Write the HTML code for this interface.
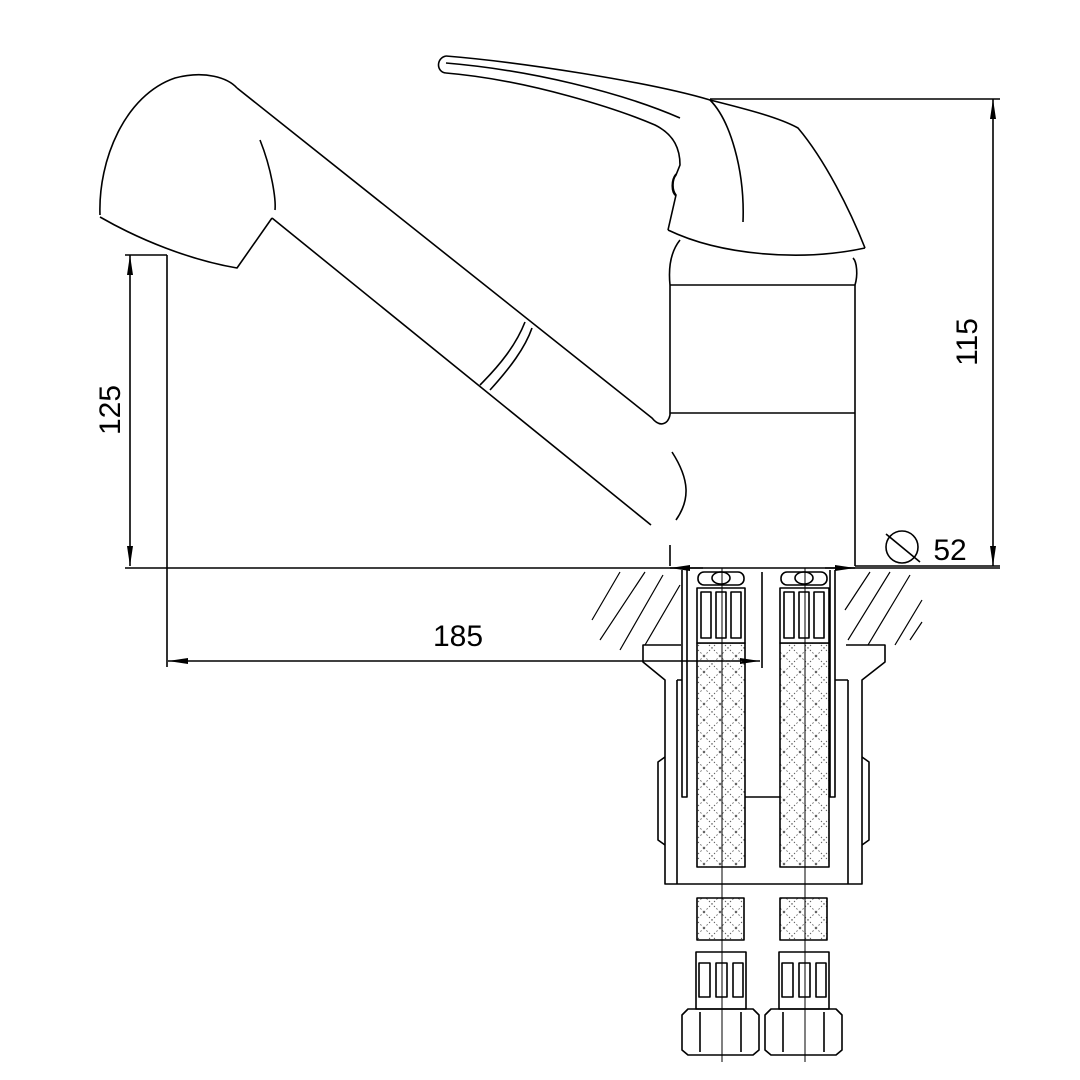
<!DOCTYPE html>
<html><head><meta charset="utf-8"><style>html,body{margin:0;padding:0;background:#fff}svg{display:block}</style></head>
<body>
<svg width="1080" height="1080" viewBox="0 0 1080 1080" xmlns="http://www.w3.org/2000/svg">
<defs>
<pattern id="x" width="16" height="16" patternUnits="userSpaceOnUse">
<path d="M0 0L16 16M16 0L0 16" stroke="#444" stroke-width="0.8" stroke-dasharray="1.5 2"/>
</pattern>
<marker id="a" viewBox="0 0 20 8" refX="20" refY="4" markerWidth="20" markerHeight="8" orient="auto-start-reverse" markerUnits="userSpaceOnUse"><path d="M0 1L20 4L0 7z" fill="#000"/></marker>
</defs>
<g fill="none" stroke="#000" stroke-width="1.6" stroke-linejoin="round">
<!-- spray head -->
<path d="M100 215 C98 160 125 95 175 78 C205 70 228 78 237 88"/>
<path d="M100 217 C140 240 190 260 237 268 L272 218"/>
<path d="M260 140 C272 170 276 200 275 210"/>
<path d="M237 88 L652 418 C660 428 668 424 670 415"/>
<path d="M272 218 L651 525"/>
<path d="M480 385 C500 365 516 345 525 322"/>
<path d="M490 390 C510 368 525 348 532 328"/>
<path d="M672 452 C690 480 690 500 676 520"/>
<!-- body -->
<path d="M670 415 L670 285 C668 265 672 250 680 240"/>
<path d="M855 285 C858 275 857 262 853 258"/>
<path d="M855 285 L855 566"/>
<path d="M670 285 L855 285 M670 413 L855 413"/>
<path d="M670 545 L670 566"/>
<!-- handle -->
<path d="M446 56 C520 62 650 82 710 100 C750 110 780 118 798 128 C825 160 850 210 865 248"/>
<path d="M446 56 C436 58 436 72 446 73"/>
<path d="M446 63 C530 70 620 92 680 118"/>
<path d="M446 73 C530 80 620 110 655 125 C675 135 680 150 680 165 L676 175 C672 180 672 190 676 195 L668 230"/>
<path d="M710 100 C730 120 745 170 743 222"/>
<path d="M668 230 C720 255 800 262 865 248"/>
<path d="M676 174 C671 180 671 192 676 196"/>
<!-- dimensions -->
<path d="M710 99 L1000 99 M855 566 L1000 566"/>
<path d="M993 99 L993 566" marker-start="url(#a)" marker-end="url(#a)"/>
<path d="M125 255 L167 255 M167 255 L167 667 M125 568 L1000 568"/>
<path d="M130 255 L130 566" marker-start="url(#a)" marker-end="url(#a)"/>
<path d="M168 661 L760 661" marker-start="url(#a)" marker-end="url(#a)"/>
<path d="M762 572 L762 668"/>
<path d="M670 568 L703 568" marker-start="url(#a)"/>
<path d="M825 568 L855 568" marker-end="url(#a)"/>
<circle cx="902" cy="547" r="16"/>
<path d="M886 534 L920 562"/>
<!-- hatching -->
<g stroke-width="1.2">
<path d="M592 620 L620 572 M600 640 L645 572 M620 650 L663 575 M645 645 L680 585"/>
<path d="M845 610 L870 572 M848 640 L890 572 M868 645 L910 575 M895 645 L922 600 M910 640 L922 622"/>
</g>
<!-- hoses -->
<g fill="url(#x)">
<rect x="697" y="643" width="48" height="224"/>
<rect x="780" y="643" width="49" height="224"/>
<path d="M697 898 L744 898 L744 940 L697 940z"/>
<path d="M780 898 L827 898 L827 940 L780 940z"/>
</g>
<g fill="#fff">
<rect x="697" y="588" width="48" height="55"/><rect x="780" y="588" width="49" height="55"/>
</g>
<path d="M701 592h10v46h-10z M716 592h10v46h-10z M731 592h10v46h-10z"/>
<path d="M784 592h10v46h-10z M799 592h10v46h-10z M814 592h10v46h-10z"/>
<rect x="698" y="572" width="46" height="13" rx="6"/><rect x="781" y="572" width="46" height="13" rx="6"/>
<ellipse cx="721" cy="578" rx="9" ry="6"/><ellipse cx="804" cy="578" rx="9" ry="6"/>
<!-- sleeves -->
<path d="M682 570 L682 797 L687 797 L687 570 M835 570 L835 797 L830 797 L830 570 M745 797 L780 797"/>
<!-- mounting nut -->
<path d="M681 645 L643 645 L643 662 L665 680 L665 884 L862 884 L862 680 L885 662 L885 645 L846 645"/>
<path d="M677 680 L677 884 M848 680 L848 884 M677 680 L682 680 M848 680 L835 680"/>
<path d="M665 757 L658 762 L658 840 L665 845 M862 757 L869 762 L869 840 L862 845"/>
<!-- bottom fittings -->
<g>
<rect x="696" y="952" width="50" height="57"/><rect x="779" y="952" width="50" height="57"/>
<path d="M699 963h11v34h-11z M716 963h11v34h-11z M733 963h10v34h-10z"/>
<path d="M782 963h11v34h-11z M799 963h11v34h-11z M816 963h10v34h-10z"/>
<path d="M682 1015 L688 1009 L753 1009 L759 1015 L759 1050 L753 1055 L688 1055 L682 1050z"/>
<path d="M765 1015 L771 1009 L836 1009 L842 1015 L842 1050 L836 1055 L771 1055 L765 1050z"/>
<path d="M700 1012 L700 1052 M741 1012 L741 1052 M783 1012 L783 1052 M824 1012 L824 1052"/>
</g>
</g>
<!-- centerlines -->
<g stroke="#000" stroke-width="1"><path d="M722 568 L722 1062 M805 568 L805 1062"/></g>
<g font-family="Liberation Sans, sans-serif" font-size="30" fill="#000">
<text x="458" y="646" text-anchor="middle">185</text>
<text x="950" y="560" text-anchor="middle">52</text>
<text transform="translate(120,410) rotate(-90)" text-anchor="middle">125</text>
<text transform="translate(977,342) rotate(-90)" text-anchor="middle">115</text>
</g>
</svg>
</body></html>
